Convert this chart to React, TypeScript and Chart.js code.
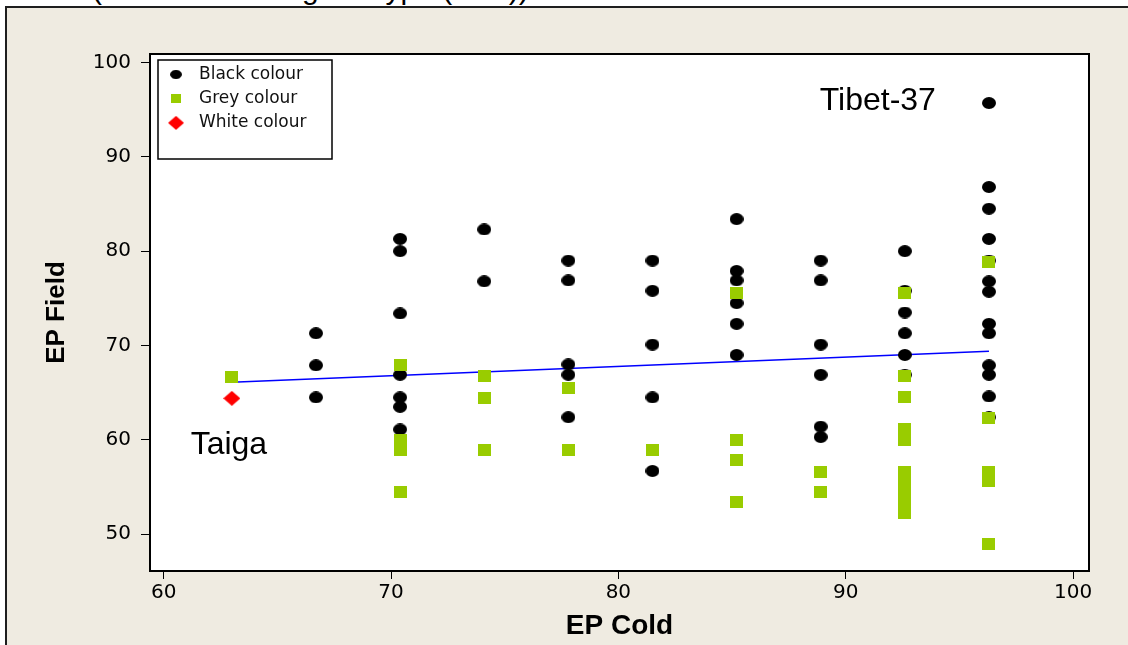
import React, { useEffect, useRef } from "react";
import { Chart, registerables } from "chart.js";

Chart.register(...registerables);

// ---------- data ----------
const coldLevels = [63.0, 66.7, 70.4, 74.1, 77.8, 81.5, 85.2, 88.9, 92.6, 96.3];

// EP Field values for each EP Cold level (same order as coldLevels)
const blackFieldByCold = [
  [],
  [71.3, 67.9, 64.5],
  [81.3, 80.0, 73.4, 66.9, 64.5, 63.5, 61.1],
  [82.3, 76.8],
  [79.0, 76.9, 68.0, 66.9, 62.4],
  [79.0, 75.8, 70.1, 64.5, 56.7],
  [83.4, 77.9, 76.9, 74.5, 72.3, 69.0],
  [79.0, 76.9, 70.1, 66.9, 61.4, 60.3],
  [80.0, 75.8, 73.5, 71.3, 69.0, 66.9],
  [95.7, 86.8, 84.5, 81.3, 79.0, 76.8, 75.7, 72.3, 71.3, 67.9, 66.9, 64.6, 62.4],
];

const greyFieldByCold = [
  [66.7],
  [],
  [67.9, 60.0, 58.9, 54.5],
  [66.8, 64.4, 58.9],
  [65.5, 58.9],
  [58.9],
  [75.6, 60.0, 57.9, 53.4],
  [56.6, 54.5],
  [75.6, 66.8, 64.5, 61.1, 60.0, 56.6, 55.5, 54.4, 53.3, 52.2],
  [78.9, 62.3, 56.6, 55.6, 49.0],
];

const whiteCold = [63.0];
const whiteField = [64.4];

const fitCold = [63.0, 96.3];
const fitField = [66.1, 69.4];

const seriesLabels = ["Black colour", "Grey colour", "White colour"];

const xTicks = [60, 70, 80, 90, 100];
const yTicks = [50, 60, 70, 80, 90, 100];
const xRange = [59.4, 100.7];
const yRange = [46.1, 100.9];

const noteTexts = ["Taiga", "Tibet-37"];
const noteCold = [62.87, 91.41];
const noteField = [59.44, 95.92];

const titleText = "(Field vs Cold - grain type (total))";

// ---------- helpers ----------
function toPoints(byCold: number[][]) {
  const pts: { x: number; y: number }[] = [];
  byCold.forEach((ys, i) => ys.forEach((y) => pts.push({ x: coldLevels[i], y })));
  return pts;
}

function makeMarker(kind: string, w: number, h: number, color: string) {
  const c = document.createElement("canvas");
  c.width = w;
  c.height = h;
  const g = c.getContext("2d")!;
  g.fillStyle = color;
  g.beginPath();
  if (kind === "ellipse") {
    g.ellipse(w / 2, h / 2, w / 2, h / 2, 0, 0, Math.PI * 2);
  } else if (kind === "diamond") {
    g.moveTo(w / 2, 0);
    g.lineTo(w, h / 2);
    g.lineTo(w / 2, h);
    g.lineTo(0, h / 2);
    g.closePath();
  } else {
    g.rect(0, 0, w, h);
  }
  g.fill();
  return c;
}

export default function App() {
  const ref = useRef<HTMLCanvasElement | null>(null);

  useEffect(() => {
    if (!ref.current) return;
    const blackMarker = makeMarker("ellipse", 14, 12, "#000000");
    const greyMarker = makeMarker("rect", 13, 12, "#99CC00");
    const whiteMarker = makeMarker("diamond", 17, 15, "#FF0000");
    const markers = [blackMarker, greyMarker, whiteMarker];
    const legendScale = [0.8, 0.78, 0.94];

    const decor = {
      id: "decor",
      beforeDraw(chart: any) {
        const { ctx, chartArea: a } = chart;
        ctx.save();
        ctx.fillStyle = "#ffffff";
        ctx.fillRect(a.left, a.top, a.right - a.left, a.bottom - a.top);
        ctx.restore();
      },
      afterDatasetsDraw(chart: any) {
        const { ctx, scales } = chart;
        ctx.save();
        ctx.fillStyle = "#000";
        ctx.font = '32px "Liberation Sans", Arial, sans-serif';
        ctx.textAlign = "center";
        ctx.textBaseline = "middle";
        noteTexts.forEach((t, i) => {
          ctx.fillText(t, scales.x.getPixelForValue(noteCold[i]), scales.y.getPixelForValue(noteField[i]));
        });
        ctx.restore();
      },
      afterDraw(chart: any) {
        const { ctx, chartArea: a } = chart;
        ctx.save();
        // plot frame
        ctx.strokeStyle = "#000";
        ctx.lineWidth = 2;
        ctx.strokeRect(a.left, a.top, a.right - a.left, a.bottom - a.top);
        // legend box
        const lx = a.left + 8;
        const ly = a.top + 6;
        const lw = 174;
        const lh = 99;
        ctx.fillStyle = "#fff";
        ctx.fillRect(lx, ly, lw, lh);
        ctx.lineWidth = 1.5;
        ctx.strokeRect(lx, ly, lw, lh);
        ctx.font = '17px "DejaVu Sans", Verdana, sans-serif';
        ctx.textAlign = "left";
        ctx.textBaseline = "middle";
        seriesLabels.forEach((lab, i) => {
          const cy = ly + 14.5 + i * 24.2;
          const m = markers[i];
          const s = legendScale[i];
          ctx.drawImage(m, lx + 18 - (m.width * s) / 2, cy - (m.height * s) / 2, m.width * s, m.height * s);
          ctx.fillStyle = "#111";
          ctx.fillText(lab, lx + 41, cy);
        });
        ctx.restore();
      },
    };

    const tickFont = { family: '"DejaVu Sans", Verdana, sans-serif', size: 20 };
    const xTitleFont = { family: '"Liberation Sans", Arial, sans-serif', size: 28, weight: "bold" as const };
    const yTitleFont = { family: '"Liberation Sans", Arial, sans-serif', size: 26, weight: "bold" as const };

    const chart = new Chart(ref.current, {
      type: "scatter",
      data: {
        datasets: [
          {
            label: seriesLabels[0],
            data: toPoints(blackFieldByCold),
            pointStyle: blackMarker as any,
            order: 3,
          },
          {
            label: seriesLabels[1],
            data: toPoints(greyFieldByCold),
            pointStyle: greyMarker as any,
            order: 2,
          },
          {
            label: seriesLabels[2],
            data: whiteCold.map((x, i) => ({ x, y: whiteField[i] })),
            pointStyle: whiteMarker as any,
            order: 1,
          },
          {
            label: "Fit",
            data: fitCold.map((x, i) => ({ x, y: fitField[i] })),
            showLine: true,
            borderColor: "#0000FF",
            borderWidth: 1.6,
            pointRadius: 0,
            order: 4,
          } as any,
        ],
      },
      options: {
        responsive: false,
        maintainAspectRatio: false,
        animation: false,
        layout: { padding: { left: 0, top: 54, right: 39, bottom: 0 } },
        plugins: { legend: { display: false }, tooltip: { enabled: false } },
        scales: {
          x: {
            type: "linear",
            min: xRange[0],
            max: xRange[1],
            afterBuildTicks: (s: any) => {
              s.ticks = xTicks.map((v) => ({ value: v }));
            },
            afterFit: (s: any) => {
              s.height = 74;
            },
            border: { display: false },
            grid: { drawOnChartArea: false, drawTicks: true, tickLength: 8, tickColor: "#000", tickWidth: 1 },
            ticks: { color: "#000", font: tickFont, padding: 2, maxRotation: 0 },
            title: { display: true, text: "EP Cold", color: "#000", font: xTitleFont, padding: { top: 0, bottom: 2 } },
          },
          y: {
            type: "linear",
            min: yRange[0],
            max: yRange[1],
            afterBuildTicks: (s: any) => {
              s.ticks = yTicks.map((v) => ({ value: v }));
            },
            afterFit: (s: any) => {
              s.width = 150;
            },
            border: { display: false },
            grid: { drawOnChartArea: false, drawTicks: true, tickLength: 9, tickColor: "#000", tickWidth: 1 },
            ticks: { color: "#000", font: tickFont, padding: 10 },
            title: { display: true, text: "EP Field", color: "#000", font: yTitleFont, padding: { top: 41, bottom: 0 } },
          },
        },
      },
      plugins: [decor],
    });
    return () => chart.destroy();
  }, []);

  return (
    <div style={{ position: "fixed", left: 0, top: 0, width: 1128, height: 645, overflow: "hidden", background: "#fff" }}>
      <div
        style={{
          position: "absolute",
          left: 92,
          top: -26,
          whiteSpace: "nowrap",
          font: '30px "Liberation Sans", Arial, sans-serif',
          lineHeight: "30px",
          color: "#000",
        }}
      >
        {titleText}
      </div>
      <div
        style={{
          position: "absolute",
          left: 5,
          top: 6,
          width: 1140,
          height: 660,
          background: "#EFEBE1",
          border: "2px solid #1e1e1e",
        }}
      />
      <canvas ref={ref} width={1128} height={645} style={{ position: "absolute", left: 0, top: 0, display: "block" }} />
    </div>
  );
}
